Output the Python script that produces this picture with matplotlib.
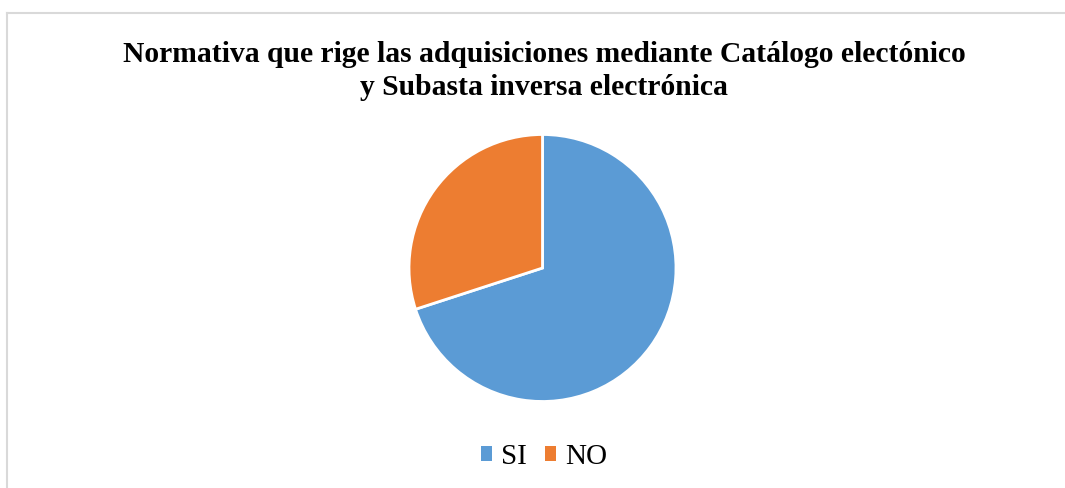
import matplotlib.pyplot as plt
from matplotlib.lines import Line2D
from matplotlib.patches import Patch

# datos
etiquetas = ["SI", "NO"]
valores = [70, 30]
colores = ["#5B9BD5", "#ED7D31"]
titulo = "Normativa que rige las adquisiciones mediante Catálogo electónico\ny Subasta inversa electrónica"

W, H = 1065, 488
fig = plt.figure(figsize=(W / 100, H / 100), dpi=100)
fig.patch.set_facecolor("white")

# borde gris del área del gráfico (sigue fuera de la imagen a la derecha y abajo)
fx = lambda px: px / W
fy = lambda py: 1 - py / H
fig.add_artist(Line2D([fx(6.5), 1.0], [fy(12.5), fy(12.5)], color="#D9D9D9", lw=1.5))
fig.add_artist(Line2D([fx(6.5), fx(6.5)], [fy(12.5), 0.0], color="#D9D9D9", lw=1.5))

# pastel
cx, cy, r = 542.5, 268, 133.5
ax = fig.add_axes([fx(cx - r), fy(cy + r), 2 * r / W, 2 * r / H])
ax.pie(valores, colors=colores, startangle=90, counterclock=False,
       wedgeprops=dict(edgecolor="white", linewidth=2))
ax.set_aspect("equal")
ax.set_xlim(-1, 1)
ax.set_ylim(-1, 1)
ax.axis("off")

fig.text(fx(544), fy(71), titulo, ha="center", va="center", fontsize=21.3,
         fontweight="bold", family="Liberation Serif", linespacing=1.32)

handles = [Patch(facecolor=c, edgecolor="none") for c in colores]
fig.legend(handles, etiquetas, loc="center", bbox_to_anchor=(fx(544), fy(457)),
           ncol=2, frameon=False, prop=dict(family="Liberation Serif", size=21),
           handlelength=0.38, handleheight=0.38, handletextpad=0.32, columnspacing=0.6)

fig.savefig("out.png", dpi=100)
